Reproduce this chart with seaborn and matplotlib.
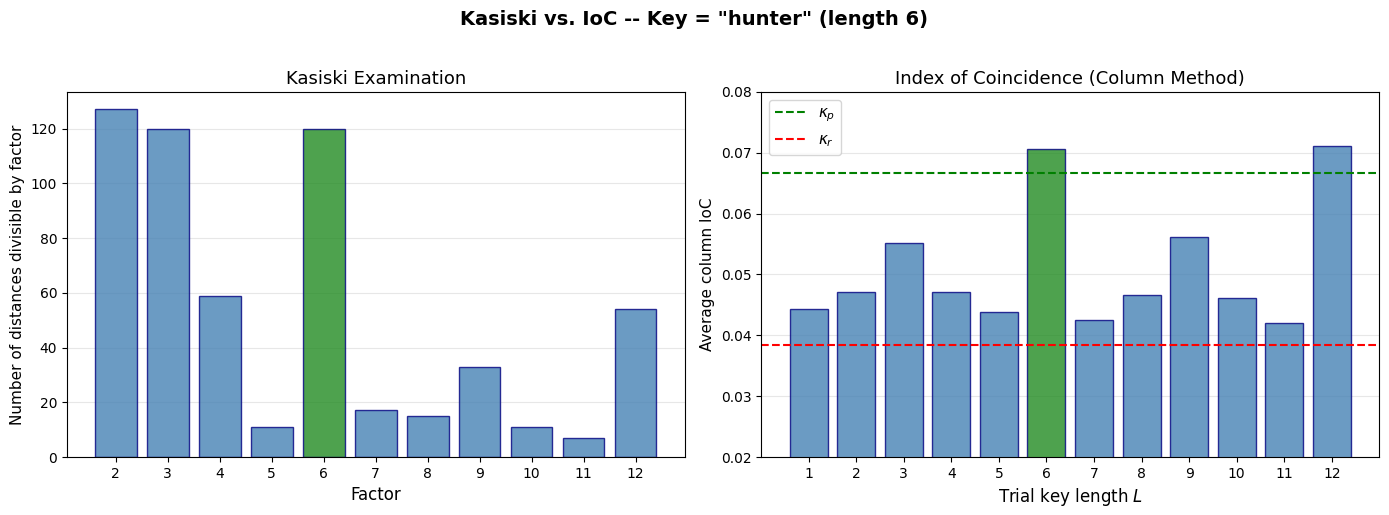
import numpy as np
import pandas as pd
import matplotlib
matplotlib.use("Agg")
import matplotlib.pyplot as plt
import seaborn as sns

# du lieu Kasiski
factors = [2, 3, 4, 5, 6, 7, 8, 9, 10, 11, 12]
kasiski_counts = [127, 120, 59, 11, 120, 17, 15, 33, 11, 7, 54]

# du lieu IoC
key_lengths = [1, 2, 3, 4, 5, 6, 7, 8, 9, 10, 11, 12]
avg_ioc = [0.0443, 0.0472, 0.0551, 0.0472, 0.0438, 0.0707,
           0.0426, 0.0467, 0.0562, 0.0461, 0.0421, 0.0712]

kappa_p = 0.0667
kappa_r = 1 / 26
true_len = 6

blue = "steelblue"
green = "forestgreen"


def pad(n):
    # le giong matplotlib: nua do rong cot + 5% khoang du lieu
    return 0.4 + 0.05 * (n - 1 + 0.8)


fig, axes = plt.subplots(1, 2, figsize=(13.89, 5.15), dpi=100)

# 1. Kasiski
ax = axes[0]
df1 = pd.DataFrame({"factor": [str(f) for f in factors], "count": kasiski_counts,
                    "hl": ["yes" if f == true_len else "no" for f in factors]})
sns.barplot(data=df1, x="factor", y="count", hue="hl",
            palette={"yes": green, "no": blue}, alpha=0.8, saturation=1,
            edgecolor="navy", linewidth=1, width=0.8, legend=False, ax=ax)
n = len(factors)
ax.set_xlim(-pad(n), n - 1 + pad(n))
ax.set_ylim(0, max(kasiski_counts) * 1.05)
ax.set_title("Kasiski Examination", fontsize=13)
ax.set_xlabel("Factor", fontsize=12)
ax.set_ylabel("Number of distances divisible by factor", fontsize=11)
ax.yaxis.grid(True, alpha=0.3)
ax.set_axisbelow(True)

# 2. IoC
ax = axes[1]
df2 = pd.DataFrame({"L": [str(k) for k in key_lengths], "ioc": avg_ioc,
                    "hl": ["yes" if k == true_len else "no" for k in key_lengths]})
sns.barplot(data=df2, x="L", y="ioc", hue="hl",
            palette={"yes": green, "no": blue}, alpha=0.8, saturation=1,
            edgecolor="navy", linewidth=1, width=0.8, legend=False, ax=ax)
ax.axhline(kappa_p, color="green", linestyle="--", linewidth=1.5, label=r"$\kappa_p$")
ax.axhline(kappa_r, color="red", linestyle="--", linewidth=1.5, label=r"$\kappa_r$")
n = len(key_lengths)
ax.set_xlim(-pad(n), n - 1 + pad(n))
ax.set_ylim(0.02, 0.08)
ax.set_title("Index of Coincidence (Column Method)", fontsize=13)
ax.set_xlabel("Trial key length $L$", fontsize=12)
ax.set_ylabel("Average column IoC", fontsize=11)
ax.yaxis.grid(True, alpha=0.3)
ax.set_axisbelow(True)
ax.legend(loc="upper left", fontsize=11)

fig.suptitle('Kasiski vs. IoC -- Key = "hunter" (length 6)', fontsize=14,
             fontweight="bold", y=0.98)
plt.subplots_adjust(left=0.0482, right=0.9928, top=0.8214, bottom=0.1126, wspace=0.1246)
plt.savefig("out.png", dpi=100)
